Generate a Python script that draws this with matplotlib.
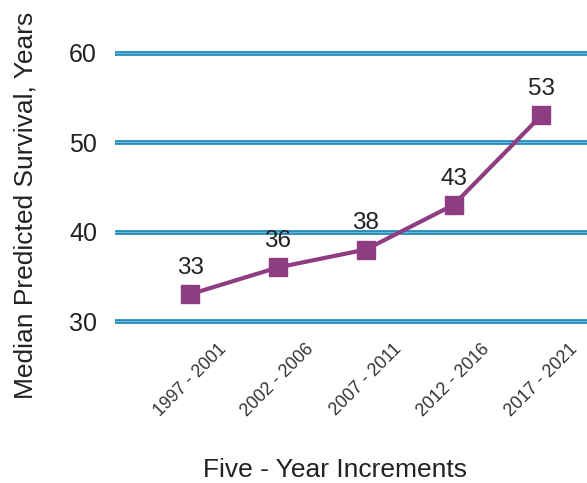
import matplotlib.pyplot as plt

plt.rcParams['font.family'] = ['Liberation Sans', 'DejaVu Sans']

# five-year periods and median predicted survival (years)
periods = ['1997 - 2001', '2002 - 2006', '2007 - 2011', '2012 - 2016', '2017 - 2021']
survival = [33, 36, 38, 43, 53]
y_ticks = [30, 40, 50, 60]

LINE_COLOR = '#8e3d82'
GRID_DARK = '#1f86b8'
GRID_LIGHT = '#6cbbe0'
TEXT = '#222222'

fig = plt.figure(figsize=(5.87, 4.83), dpi=100)
ax = fig.add_axes([0.196, 0.326, 0.804, 0.6015])

x = list(range(len(periods)))

# double-toned horizontal gridlines
for yv in y_ticks:
    ax.axhline(yv, color=GRID_DARK, lw=3.4, zorder=1)
    ax.axhline(yv, color=GRID_LIGHT, lw=0.9, zorder=1)

ax.plot(x, survival, color=LINE_COLOR, lw=3, marker='s', markersize=13,
        zorder=3)
for xi, v in zip(x, survival):
    ax.annotate(f'{v}', (xi, v), xytext=(0, 11), textcoords='offset points',
                ha='center', va='bottom', fontsize=17.5, color=TEXT)

ax.set_xlim(-0.855, 4.52)
ax.set_ylim(29.5, 62)
ax.set_yticks(y_ticks)
ax.set_xticks(x)
ax.set_xticklabels(periods, rotation=45, ha='center', fontsize=12.8,
                   color='#333333')
ax.tick_params(axis='y', labelsize=18, length=0, pad=13, labelcolor=TEXT)
ax.tick_params(axis='x', length=0, pad=11)
for s in ax.spines.values():
    s.set_visible(False)

ax.set_ylabel('Median Predicted Survival, Years', fontsize=19, color=TEXT)
ax.yaxis.set_label_coords(-0.165, 0.415)
ax.set_xlabel('Five - Year Increments', fontsize=19, color=TEXT)
ax.xaxis.set_label_coords(0.466, -0.456)

fig.savefig('out.png', dpi=100)
